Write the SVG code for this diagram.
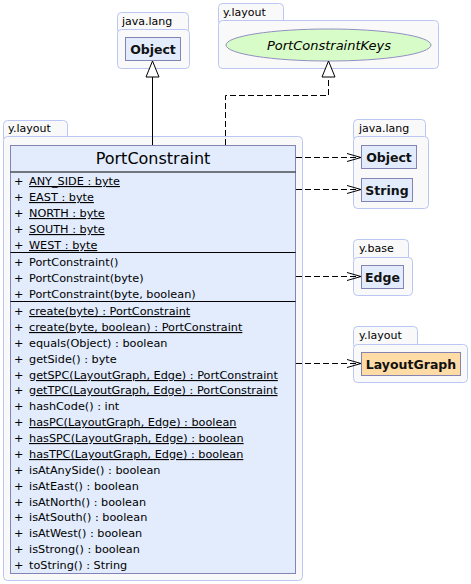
<svg xmlns="http://www.w3.org/2000/svg" width="471" height="584" viewBox="0 0 471 584">
<defs>
<style>
.pkg{fill:#f9f9f9;stroke:#bcc6f4;stroke-width:1}
.pl{font-family:"DejaVu Sans",sans-serif;font-size:11px;fill:#000}
.box{fill:#e2ecfd;stroke:#8484b4;stroke-width:1}
.bn{font-family:"DejaVu Sans",sans-serif;font-size:12.5px;font-weight:600;fill:#111}
.m{font-family:"DejaVu Sans",sans-serif;font-size:11.25px;fill:#000}
.u{text-decoration:underline}
.sep{stroke:#000;stroke-width:1}
.dash{fill:none;stroke:#000;stroke-width:1;stroke-dasharray:6,3}
.solid{fill:none;stroke:#000;stroke-width:1}
.tri{fill:#fff;stroke:#000;stroke-width:1}
.open{fill:none;stroke:#000;stroke-width:1}
</style>
</defs>
<rect width="471" height="584" fill="#fff"/>

<g id="pkg-java-lang-top">
<rect class="pkg" x="117.5" y="12.5" width="71" height="22" rx="4"/>
<rect class="pkg" x="117.5" y="29.5" width="72" height="39" rx="4"/>
<text class="pl" x="122" y="25">java.lang</text>
</g>
<g id="node-object-top">
<rect class="box" x="125.5" y="37.5" width="55" height="23"/>
<text class="bn" x="153" y="53.5" text-anchor="middle">Object</text>
</g>

<g id="pkg-y-layout-top">
<rect class="pkg" x="218.5" y="3.5" width="65" height="22" rx="4"/>
<rect class="pkg" x="218.5" y="20.5" width="220" height="48" rx="4"/>
<text class="pl" x="223" y="16">y.layout</text>
</g>
<g id="node-portconstraintkeys">
<ellipse cx="328.5" cy="45" rx="102.5" ry="16" fill="#d8fcc8" stroke="#9090c0"/>
<text x="329" y="49.5" text-anchor="middle" font-family="'DejaVu Sans',sans-serif" font-size="13" font-style="italic">PortConstraintKeys</text>
</g>

<g id="pkg-y-layout-main">
<rect class="pkg" x="3.5" y="120.5" width="64" height="22" rx="4"/>
<rect class="pkg" x="3.5" y="136.5" width="299" height="444" rx="4"/>
<text class="pl" x="8" y="132">y.layout</text>
</g>

<g id="node-portconstraint">
<rect class="box" x="10.5" y="145.5" width="285" height="428"/>
<text x="153" y="164" text-anchor="middle" font-family="'DejaVu Sans',sans-serif" font-size="16">PortConstraint</text>
<line class="sep" x1="10.5" y1="172" x2="295.5" y2="172"/>
<text class="m" x="14" y="185">+</text><text class="m u" x="29" y="185">ANY_SIDE : byte</text>
<text class="m" x="14" y="201">+</text><text class="m u" x="29" y="201">EAST : byte</text>
<text class="m" x="14" y="217">+</text><text class="m u" x="29" y="217">NORTH : byte</text>
<text class="m" x="14" y="233">+</text><text class="m u" x="29" y="233">SOUTH : byte</text>
<text class="m" x="14" y="249">+</text><text class="m u" x="29" y="249">WEST : byte</text>
<line class="sep" x1="10.5" y1="252.5" x2="295.5" y2="252.5"/>
<text class="m" x="14" y="266">+</text><text class="m" x="29" y="266">PortConstraint()</text>
<text class="m" x="14" y="282">+</text><text class="m" x="29" y="282">PortConstraint(byte)</text>
<text class="m" x="14" y="298">+</text><text class="m" x="29" y="298">PortConstraint(byte, boolean)</text>
<line class="sep" x1="10.5" y1="301.5" x2="295.5" y2="301.5"/>
<text class="m" x="14" y="315">+</text><text class="m u" x="29" y="315">create(byte) : PortConstraint</text>
<text class="m" x="14" y="331">+</text><text class="m u" x="29" y="331">create(byte, boolean) : PortConstraint</text>
<text class="m" x="14" y="347">+</text><text class="m" x="29" y="347">equals(Object) : boolean</text>
<text class="m" x="14" y="363">+</text><text class="m" x="29" y="363">getSide() : byte</text>
<text class="m" x="14" y="379">+</text><text class="m u" x="29" y="379">getSPC(LayoutGraph, Edge) : PortConstraint</text>
<text class="m" x="14" y="394">+</text><text class="m u" x="29" y="394">getTPC(LayoutGraph, Edge) : PortConstraint</text>
<text class="m" x="14" y="410">+</text><text class="m" x="29" y="410">hashCode() : int</text>
<text class="m" x="14" y="426">+</text><text class="m u" x="29" y="426">hasPC(LayoutGraph, Edge) : boolean</text>
<text class="m" x="14" y="442">+</text><text class="m u" x="29" y="442">hasSPC(LayoutGraph, Edge) : boolean</text>
<text class="m" x="14" y="458">+</text><text class="m u" x="29" y="458">hasTPC(LayoutGraph, Edge) : boolean</text>
<text class="m" x="14" y="474">+</text><text class="m" x="29" y="474">isAtAnySide() : boolean</text>
<text class="m" x="14" y="490">+</text><text class="m" x="29" y="490">isAtEast() : boolean</text>
<text class="m" x="14" y="506">+</text><text class="m" x="29" y="506">isAtNorth() : boolean</text>
<text class="m" x="14" y="521">+</text><text class="m" x="29" y="521">isAtSouth() : boolean</text>
<text class="m" x="14" y="537">+</text><text class="m" x="29" y="537">isAtWest() : boolean</text>
<text class="m" x="14" y="553">+</text><text class="m" x="29" y="553">isStrong() : boolean</text>
<text class="m" x="14" y="569">+</text><text class="m" x="29" y="569">toString() : String</text>
</g>

<g id="pkg-java-lang-right">
<rect class="pkg" x="353.5" y="119.5" width="72" height="22" rx="4"/>
<rect class="pkg" x="353.5" y="136.5" width="75" height="72" rx="4"/>
<text class="pl" x="359" y="132">java.lang</text>
</g>
<g id="node-object-right">
<rect class="box" x="361.5" y="145.5" width="55" height="23"/>
<text class="bn" x="389" y="161.5" text-anchor="middle">Object</text>
</g>
<g id="node-string">
<rect class="box" x="361.5" y="178.5" width="51" height="23"/>
<text class="bn" x="387" y="194.5" text-anchor="middle">String</text>
</g>

<g id="pkg-y-base">
<rect class="pkg" x="353.5" y="239.5" width="55" height="22" rx="4"/>
<rect class="pkg" x="353.5" y="257.5" width="59" height="38" rx="4"/>
<text class="pl" x="359" y="252">y.base</text>
</g>
<g id="node-edge">
<rect class="box" x="361.5" y="265.5" width="42" height="23"/>
<text class="bn" x="382.5" y="281.5" text-anchor="middle">Edge</text>
</g>

<g id="pkg-y-layout-right">
<rect class="pkg" x="353.5" y="326.5" width="64" height="22" rx="4"/>
<rect class="pkg" x="353.5" y="344.5" width="114" height="38" rx="4"/>
<text class="pl" x="359" y="339">y.layout</text>
</g>
<g id="node-layoutgraph">
<rect x="361.5" y="352.5" width="99" height="23" fill="#ffdba6" stroke="#8484b4"/>
<text class="bn" x="411" y="368.5" text-anchor="middle">LayoutGraph</text>
</g>

<g id="connectors">
<path class="solid" d="M152.5,145 V77"/>
<polygon class="tri" points="152.5,61 146,77 159,77"/>
<path class="dash" d="M225.5,145 V95.5 H328.5 V77"/>
<polygon class="tri" points="328.5,61 322,77 335,77"/>
<path class="dash" d="M296,157.5 H360"/>
<path class="open" d="M347,153.5 L361,157.5 L347,161.5"/>
<path class="dash" d="M296,189.5 H360"/>
<path class="open" d="M347,185.5 L361,189.5 L347,193.5"/>
<path class="dash" d="M296,276.5 H360"/>
<path class="open" d="M347,272.5 L361,276.5 L347,280.5"/>
<path class="dash" d="M296,363.5 H360"/>
<path class="open" d="M347,359.5 L361,363.5 L347,367.5"/>
</g>
</svg>
